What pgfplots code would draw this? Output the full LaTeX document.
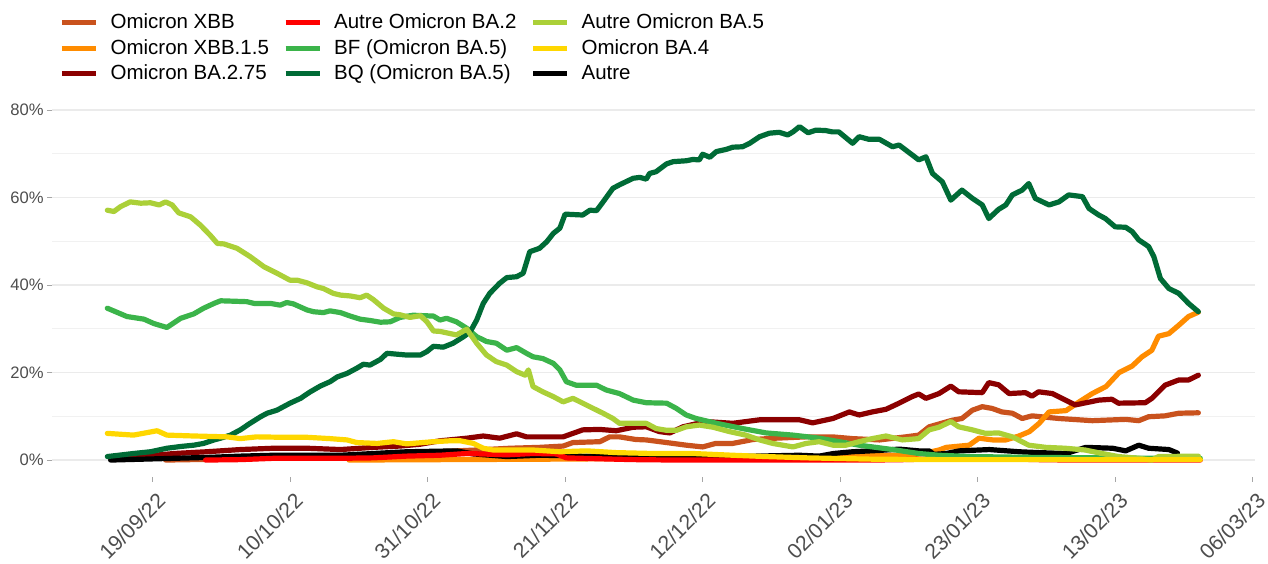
\documentclass[border=0pt]{standalone}
\usepackage{fontspec}
\setmainfont{Liberation Sans}
\usepackage{pgfplots}
\pgfplotsset{compat=1.18}
\definecolor{cXBB}{HTML}{C9521D}
\definecolor{cXBBf}{HTML}{FF8C00}
\definecolor{cBAsf}{HTML}{8B0000}
\definecolor{cAutreBAt}{HTML}{FF0000}
\definecolor{cBF}{HTML}{3BB44A}
\definecolor{cBQ}{HTML}{006B36}
\definecolor{cAutreBAv}{HTML}{ABD038}
\definecolor{cBAq}{HTML}{FFD700}
\definecolor{txt}{HTML}{4D4D4D}
\definecolor{gridc}{HTML}{EBEBEB}

% x = days since 19/09/22

\begin{document}
\begin{tikzpicture}
\begin{axis}[
  scale only axis,
  width=601.5pt, height=184pt,
  xmin=-15.35, xmax=168.35,
  ymin=-3.8, ymax=80.3,
  axis line style={draw=none},
  xtick={0,21,42,63,84,105,126,147,168},
  xticklabels={19/09/22,10/10/22,31/10/22,21/11/22,12/12/22,02/01/23,23/01/23,13/02/23,06/03/23},
  ytick={0,20,40,60,80},
  yticklabels={0\%,20\%,40\%,60\%,80\%},
  minor ytick={10,30,50,70},
  xtick pos=bottom, ytick pos=left,
  tick align=outside,
  major tick length=2.5pt, minor tick length=0pt,
  tick style={draw=gray!70, line width=0.5pt},
  ymajorgrids, yminorgrids,
  major grid style={draw=gridc, line width=0.6pt},
  minor grid style={draw=gridc!70, line width=0.4pt},
  xticklabel style={rotate=45, anchor=north east, font=\fontsize{10.6}{12}\selectfont, text=txt, inner sep=1pt, yshift=-3.5pt, xshift=-1.2pt},
  yticklabel style={font=\fontsize{8.3}{10}\selectfont, text=txt, inner sep=1.5pt},
  every axis plot/.append style={line width=2.6pt, line join=round, line cap=round},
  legend columns=3,
  legend cell align=left,
  legend image code/.code={\draw[#1, line width=2.6pt, line cap=butt] (0pt,0pt) -- (17pt,0pt);},
  legend style={draw=none, fill=none, at={(axis description cs:0,1)}, anchor=north west,
    xshift=3.5pt, yshift=49.6pt, inner sep=0pt,
    font=\fontsize{10.25}{12}\selectfont,
    column sep=4pt, row sep=-0.25pt,
    /tikz/every even column/.append style={column sep=5pt}},
  clip=false,
]
\coordinate (LL) at (rel axis cs:0,0);
\coordinate (UR) at (rel axis cs:1,1);

% Omicron XBB
\addplot[cXBB, forget plot] coordinates {
(2,0.0)(10,0.2)(20,0.5)(30,1.0)(40,1.6)(45,2.0)(49.5,2.3)(54.6,2.7)(59.1,2.9)(62.7,3.2)(64.2,4.0)(68.3,4.2)(69.8,5.3)(71.3,5.3)(73.8,4.7)(75.4,4.6)(78.5,4.0)(81.5,3.4)(84,3.0)(86,3.8)(88.6,3.8)(91.7,4.7)(95.2,5.0)(99.8,5.3)(103.8,5.3)(106.9,4.9)(111,4.6)(115,5.3)(117,5.7)(118.6,7.6)(122.1,9.1)(123.6,9.5)(125.2,11.4)(126.7,12.2)(128.2,11.8)(129.7,11.0)(131.3,10.7)(132.8,9.5)(134.3,10.1)(138.4,9.5)(143.5,9.0)(148.6,9.3)(150.6,9.0)(152.1,9.9)(154.6,10.1)(156.7,10.7)(159.7,10.8)
};
% Omicron XBB.1.5
\addplot[cXBBf, forget plot] coordinates {
(30,0.0)(60,0.2)(90,0.5)(100,0.7)(110,1.0)(116,1.2)(118,1.6)(120.1,2.3)(121.2,2.9)(124.7,3.4)(126.2,5.0)(128.3,4.6)(130.3,4.6)(132.3,5.5)(133.9,6.5)(135.4,8.4)(136.9,11.0)(139.5,11.3)(141.5,13.3)(143.5,15.2)(145.6,16.8)(147.6,20.0)(149.6,21.5)(151.1,23.6)(152.6,25.1)(153.6,28.3)(155.2,28.9)(156.7,30.8)(158.2,32.8)(159.7,33.8)
};
% Omicron BA.2.75
\addplot[cBAsf, forget plot] coordinates {
(-6.4,0.4)(-1.8,0.8)(3.3,1.5)(8.3,1.9)(13.4,2.4)(18.5,2.7)(23.6,2.7)(28.7,2.4)(33.7,2.9)(37.8,3.2)(40.8,3.6)(43.9,4.4)(48,5.0)(50.5,5.5)(53,5.0)(55.6,6.0)(57.1,5.3)(61.2,5.3)(62.7,5.3)(65.7,6.9)(68.3,7.0)(70.8,6.7)(73.4,7.5)(75.4,7.6)(77.4,6.5)(79,6.2)(81,7.6)(84.5,8.8)(88.6,8.4)(92.7,9.2)(96.7,9.2)(98.8,9.2)(100.8,8.5)(103.9,9.5)(106.4,11.0)(107.9,10.3)(109.9,11.0)(112,11.6)(114,13.0)(116,14.5)(117,15.1)(118.1,14.1)(120.1,15.2)(121.9,16.9)(123.1,15.6)(126.7,15.4)(127.7,17.7)(129.2,17.2)(130.8,15.2)(133.3,15.4)(134.3,14.6)(135.3,15.6)(137.4,15.2)(139.4,13.7)(140.9,12.6)(144.5,13.7)(146.5,13.9)(147.5,13.0)(151.6,13.1)(152.6,14.1)(154.6,17.1)(156.7,18.3)(158.2,18.3)(159.7,19.4)
};
% Autre
\addplot[black, forget plot] coordinates {
(-6.4,0.0)(3.3,0.4)(8.3,0.6)(13.4,0.9)(18.5,1.1)(28.7,1.1)(33.7,1.5)(38.8,1.9)(46.4,2.1)(49,1.4)(54.1,0.8)(59.1,1.1)(63,1.0)(68.3,0.8)(78,0.8)(88.6,0.8)(98.8,1.1)(101.8,0.9)(104,1.5)(106.9,1.9)(111,2.2)(114,2.5)(117,2.1)(118.6,2.1)(119.3,1.3)(121.2,1.5)(123.2,2.1)(127.8,2.4)(132.3,1.9)(135.4,1.7)(139.5,1.5)(142.5,2.9)(146.6,2.7)(148.6,2.1)(150.6,3.4)(152.1,2.7)(155.2,2.4)(156.5,1.6)
};
% Autre Omicron BA.2
\addplot[cAutreBAt, forget plot] coordinates {
(8.1,0.0)(13.4,0.1)(18.5,0.4)(28.7,0.4)(33.7,0.5)(38.8,0.9)(43.9,1.1)(48,1.5)(54.1,1.2)(58.1,1.5)(61.7,1.4)(63.2,0.5)(68,0.3)(73.4,0.1)(80,0.0)(90,0.0)(100,0.0)(110,0.0)(115,0.1)(120,0.3)(130,0.3)(135,0.1)(140,0.0)(150,0.0)(160,0.0)
};
% BF (Omicron BA.5)
\addplot[cBF, forget plot] coordinates {
(-6.9,34.7)(-3.9,32.8)(-1.3,32.2)(0.2,31.2)(2.2,30.3)(4.3,32.4)(6.3,33.4)(7.8,34.7)(9.4,35.8)(10.4,36.4)(12.4,36.3)(14.4,36.2)(15.5,35.8)(18,35.8)(19.5,35.4)(20.5,36.0)(21.5,35.7)(23.6,34.3)(24.6,33.9)(26.1,33.7)(27.1,34.1)(28.7,33.7)(30.2,32.9)(31.7,32.2)(33.2,31.9)(34.8,31.5)(36.3,31.6)(37.8,32.6)(39.8,33.1)(42.9,32.9)(43.9,32.0)(44.9,32.4)(46.4,31.6)(48,30.1)(49.5,28.2)(51,27.1)(52.5,26.7)(54.1,25.1)(55.6,25.7)(57.1,24.4)(58.1,23.6)(59.6,23.2)(61.2,22.1)(62.2,20.6)(63.2,17.9)(64.7,17.1)(67.8,17.1)(69.3,16.0)(71.3,15.2)(73.4,13.7)(75.4,13.1)(78.5,13.0)(80,11.8)(81.5,10.3)(83,9.5)(86.1,8.4)(90.1,7.2)(93.7,6.2)(97.8,5.7)(101.8,5.0)(107.9,3.4)(113,2.4)(117,1.5)(120.1,1.1)(125,0.8)(135,0.6)(145,0.5)(155,0.4)(160,0.4)
};
% BQ (Omicron BA.5)
\addplot[cBQ, forget plot] coordinates {
(-6.9,0.8)(-2.9,1.5)(-0.3,1.9)(2.2,2.7)(4.3,3.1)(6.3,3.4)(7.8,3.8)(9.4,4.6)(10.4,5.0)(11.9,5.7)(13.4,6.9)(14.9,8.4)(16.5,9.9)(17.5,10.7)(19,11.4)(20,12.2)(21,13.0)(22.6,14.1)(24.1,15.6)(25.6,16.9)(27.1,17.9)(28.2,19.0)(29.7,19.8)(31.2,21.0)(32.2,21.9)(33.2,21.7)(34.8,23.0)(35.8,24.4)(38.8,24.0)(40.9,24.0)(41.9,24.8)(42.9,26.0)(44.4,25.8)(45.9,26.7)(47.5,28.2)(48.5,29.3)(49.5,32.0)(50.5,35.8)(51.5,38.1)(53,40.4)(54.1,41.7)(55.6,41.9)(56.6,42.7)(57.6,47.6)(59.1,48.4)(60.2,49.9)(61.2,51.8)(62.2,53.0)(63,56.2)(65.7,56.0)(66.8,57.1)(67.8,57.0)(68.8,59.0)(70.3,62.1)(71.3,62.9)(73.4,64.4)(74.4,64.6)(75.4,64.2)(75.9,65.5)(76.9,65.9)(78.5,67.7)(79.5,68.2)(81.5,68.4)(82.5,68.7)(83.5,68.6)(84,69.9)(85.1,69.2)(86.1,70.5)(87.6,71.0)(88.6,71.5)(90.1,71.6)(91.2,72.4)(92.7,73.9)(94.2,74.7)(95.7,74.9)(97,74.3)(97.8,75.0)(98.8,76.2)(100.1,74.8)(101.3,75.4)(102.8,75.3)(103.8,75.0)(104.8,75.0)(106.9,72.4)(107.9,73.9)(109.4,73.3)(111,73.3)(113,71.6)(114,72.0)(117,68.6)(118.1,69.3)(119.1,65.5)(120.6,63.6)(121.9,59.4)(123.6,61.7)(125.2,59.8)(126.7,58.3)(127.7,55.2)(129.2,57.3)(130.3,58.3)(131.3,60.6)(132.8,61.7)(133.8,63.2)(134.8,59.8)(136.9,58.3)(138.4,59.0)(139.9,60.6)(142,60.2)(143,57.5)(144.5,56.0)(145.5,55.2)(147,53.3)(148.6,53.2)(149.6,52.2)(150.6,50.3)(152.1,48.8)(152.9,46.5)(153.9,41.5)(155.2,39.2)(156.7,38.1)(158.2,35.8)(159.7,33.9)
};
% Autre Omicron BA.5
\addplot[cAutreBAv, forget plot] coordinates {
(-6.9,57.1)(-5.9,56.8)(-4.9,57.9)(-3.4,59.0)(-1.8,58.7)(-0.3,58.8)(1,58.3)(2,59.0)(3,58.3)(4,56.5)(5.8,55.6)(7.3,53.7)(8.8,51.4)(9.9,49.5)(10.9,49.4)(12.9,48.4)(14.9,46.5)(17,44.2)(19,42.7)(21,41.1)(22.1,41.1)(23.6,40.5)(25.1,39.6)(26.1,39.2)(27.6,38.1)(28.7,37.7)(30.2,37.5)(31.7,37.1)(32.7,37.7)(33.7,36.7)(35.3,34.7)(36.8,33.4)(37.8,33.2)(39.3,32.6)(40.9,33.0)(41.9,31.6)(42.9,29.5)(43.9,29.4)(46.4,28.6)(48,29.9)(49.5,26.7)(51,24.0)(52.5,22.5)(54.1,21.7)(55.6,20.2)(56.9,19.4)(57.4,20.6)(58.1,16.8)(59.6,15.6)(61.2,14.5)(62.7,13.3)(64.2,14.1)(65.7,13.0)(67.3,11.8)(68.8,10.7)(70.3,9.5)(71.3,8.4)(73.4,8.4)(75.4,8.4)(76.9,7.2)(78.5,6.8)(80,6.8)(81.5,7.6)(83.5,8.0)(85.6,7.5)(88.1,6.5)(90.6,5.7)(92.7,4.6)(94.7,3.8)(97.8,3.0)(99.8,3.8)(101.8,4.2)(103.9,3.4)(105.9,3.4)(107.9,4.2)(109.9,4.9)(112,5.5)(114.5,4.6)(117,4.9)(118.6,6.9)(120.1,7.5)(121.9,8.8)(123.1,7.6)(125.2,6.9)(127.2,6.1)(129.2,6.2)(131.3,5.3)(133.8,3.4)(136.4,2.9)(139.4,2.7)(142.4,2.3)(145,1.5)(147.5,0.8)(150.6,0.4)(152.6,0.0)(153.6,0.8)(159.7,0.9)
};
% Omicron BA.4
\addplot[cBAq, forget plot] coordinates {
(-6.9,6.1)(-2.9,5.7)(0.7,6.7)(2.2,5.7)(6.3,5.5)(11.4,5.3)(13.4,4.9)(15.9,5.3)(20,5.2)(23.6,5.2)(27.1,4.9)(29.7,4.6)(31.2,4.0)(34.3,3.8)(36.8,4.2)(38.8,3.7)(42.9,4.2)(45.4,4.4)(47,4.4)(49,3.8)(50.5,2.7)(52,2.3)(58.1,2.3)(62.2,1.9)(66.3,2.1)(70.8,1.7)(76.4,1.5)(82.5,1.5)(88.6,1.1)(93.7,0.8)(100,0.5)(110,0.2)(120,0.1)(130,0.1)(140,0.1)(150,0.1)(160,0.1)
};

% legend, row by row
\addlegendimage{cXBB}\addlegendentry{Omicron XBB}
\addlegendimage{cAutreBAt}\addlegendentry{Autre Omicron BA.2}
\addlegendimage{cAutreBAv}\addlegendentry{Autre Omicron BA.5}
\addlegendimage{cXBBf}\addlegendentry{Omicron XBB.1.5}
\addlegendimage{cBF}\addlegendentry{BF (Omicron BA.5)}
\addlegendimage{cBAq}\addlegendentry{Omicron BA.4}
\addlegendimage{cBAsf}\addlegendentry{Omicron BA.2.75}
\addlegendimage{cBQ}\addlegendentry{BQ (Omicron BA.5)}
\addlegendimage{black}\addlegendentry{Autre}
\end{axis}
\pgfresetboundingbox
\path ([shift={(-26pt,-43.2pt)}]LL) rectangle ([shift={(6.5pt,54.35pt)}]UR);
\end{tikzpicture}
\end{document}
